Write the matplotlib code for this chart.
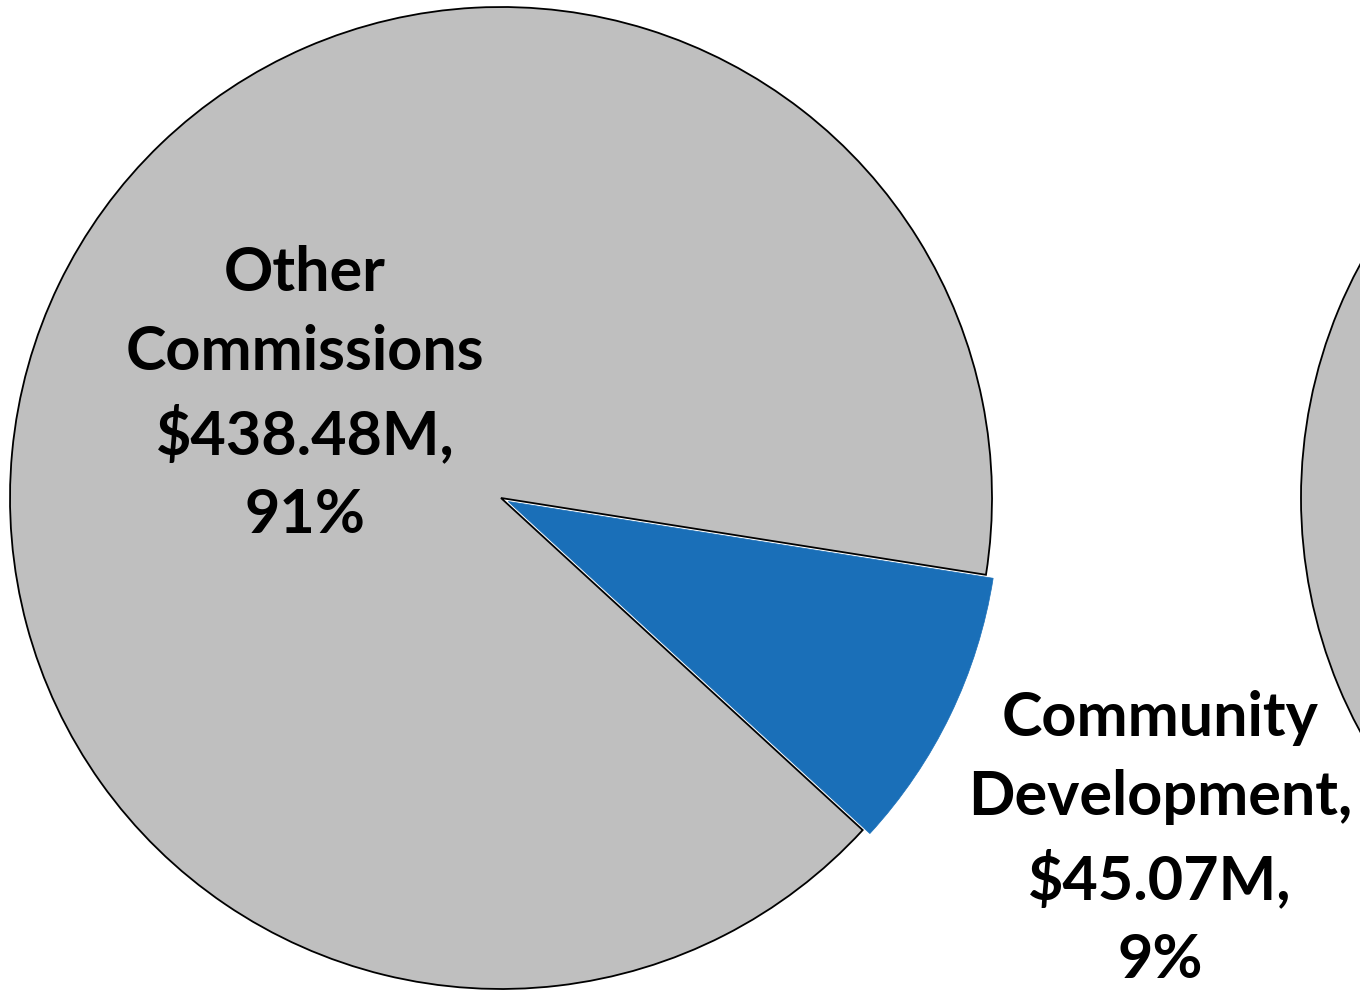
import matplotlib.pyplot as plt

# main pie data
categories = ["Other\nCommissions", "Community\nDevelopment,"]
amounts = [438.48, 45.07]
amount_labels = ["$438.48M,", "$45.07M,"]
pct_labels = ["91%", "9%"]
colors = ["#BFBFBF", "#1A6FB8"]

# neighbouring pie, only its left edge shows
next_pie = [1.0]

plt.rcParams["font.family"] = ["Lato", "DejaVu Sans"]

fig = plt.figure(figsize=(13.6, 9.92), dpi=100)
ax = fig.add_axes([0, 0, 1, 1])

wedges, _ = ax.pie(
    amounts,
    colors=colors,
    startangle=-9,
    counterclock=True,
    center=(501, 494),
    radius=491,
    explode=[0, 8],
    frame=True,
)
wedges[0].set_edgecolor("black")
wedges[0].set_linewidth(1.3)
wedges[1].set_edgecolor(colors[1])
wedges[1].set_linewidth(0.5)

ax.pie(
    next_pie,
    colors=[colors[0]],
    center=(1792, 494),
    radius=491,
    wedgeprops=dict(edgecolor="black", linewidth=1.3),
    frame=True,
)
ax.set_xlim(0, 1360)
ax.set_ylim(0, 992)
ax.set_aspect("equal")
ax.axis("off")

label_pos = [(305, 992 - 394), (1160, 992 - 839)]
for cat, amt, pct, (x, y) in zip(categories, amount_labels, pct_labels, label_pos):
    ax.text(x, y, f"{cat}\n{amt}\n{pct}", ha="center", va="center",
            fontsize=44, fontweight="bold", linespacing=1.5, color="black")

fig.savefig("out.png", dpi=100)
